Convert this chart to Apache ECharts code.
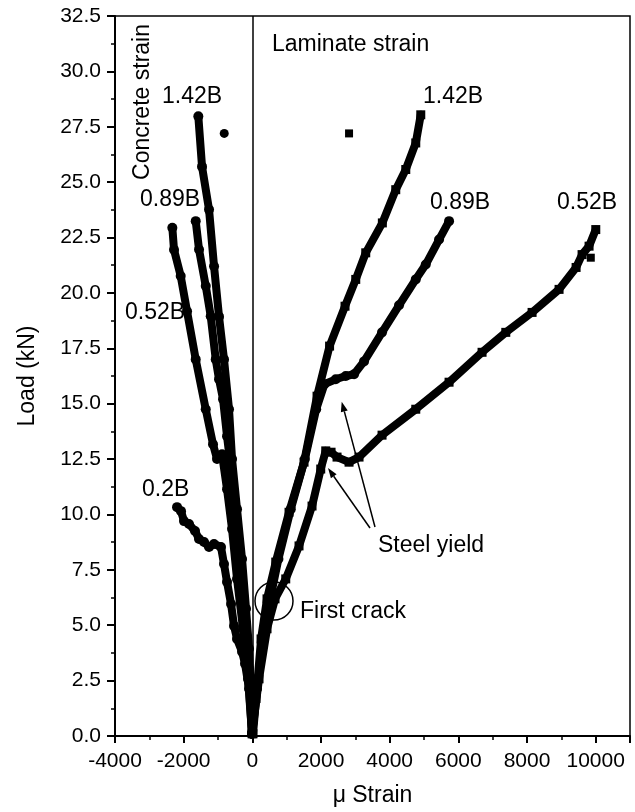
<!DOCTYPE html>
<html>
<head>
<meta charset="utf-8">
<script src="https://cdn.jsdelivr.net/npm/echarts@6/dist/echarts.min.js"></script>
<style>
  html, body { margin: 0; padding: 0; background: #fff; }
  #chart { width: 635px; height: 812px; }
</style>
</head>
<body>
<div id="chart"></div>
<script>
// [strain, load] pairs
var concrete142 = [[-1573,27.97],[-1465,25.7],[-1261,23.76],[-1115,21.2],[-970,18.93],[-825,17.0],[-679,14.75],[-591,12.5],[-446,10.24],[-300,7.99],[-184,5.74],[-96,3.94],[-38,1.69],[-9,0.1]];
var concrete089 = [[-1649,23.24],[-1553,21.96],[-1357,20.31],[-1212,18.95],[-1066,17.0],[-970,16.1],[-853,15.2],[-737,13.53],[-620,12.04],[-504,9.79],[-358,7.54],[-213,5.29],[-96,3.04],[-9,0.1]];
var concrete052 = [[-2330,22.94],[-2281,21.95],[-2086,20.76],[-1902,19.17],[-1649,17.0],[-1357,14.75],[-1145,13.17],[-1028,12.5],[-883,12.72],[-737,11.14],[-591,9.34],[-446,7.09],[-271,4.84],[-125,2.58],[-9,0.1]];
var concrete02 = [[-2193,10.33],[-2077,10.15],[-1990,9.7],[-1844,9.57],[-1669,9.25],[-1553,8.89],[-1407,8.76],[-1261,8.53],[-1116,8.67],[-912,8.53],[-825,7.76],[-737,6.95],[-620,5.96],[-533,4.97],[-446,4.38],[-300,3.8],[-213,3.26],[-96,2.13],[-9,0.1]];

var laminate142 = [[20,0.1],[108,1.69],[254,4.38],[428,6.19],[682,7.85],[1069,10.1],[1506,12.36],[1885,15.34],[2250,17.6],[2700,19.4],[3012,20.61],[3303,21.81],[3787,23.16],[4177,24.66],[4469,25.57],[4760,26.77],[4906,28.04]];
var laminate089 = [[-9,0.1],[137,2.13],[320,4.38],[520,6.19],[760,7.99],[1120,10.24],[1530,12.5],[1860,14.75],[2100,15.88],[2429,16.1],[2721,16.25],[2963,16.33],[3254,16.91],[3778,18.22],[4273,19.44],[4760,20.61],[5051,21.28],[5439,22.41],[5730,23.24]];
var laminate052 = [[-9,0.1],[195,2.58],[428,4.84],[661,6.19],[973,7.09],[1360,8.58],[1739,10.38],[1992,12.05],[2138,12.87],[2293,12.81],[2467,12.59],[2817,12.36],[3108,12.59],[3778,13.58],[4760,14.75],[5730,15.97],[6691,17.32],[7382,18.22],[8148,19.12],[8934,20.16],[9430,21.15],[9604,21.73],[9808,22.11],[10003,22.86]];

var strayCircles = [[-818,27.2]];
var straySquares = [[2817,27.2],[9858,21.59]];

var yTicks = ['0.0','2.5','5.0','7.5','10.0','12.5','15.0','17.5','20.0','22.5','25.0','27.5','30.0','32.5'];

var FONT = '"Liberation Sans", Arial, sans-serif';

function curve(data, symbol) {
    return {
        type: 'line',
        data: data,
        symbol: symbol,
        symbolSize: symbol == 'rect' ? 9 : 10,
        itemStyle: {color: '#000', opacity: 1},
        lineStyle: {color: '#000', width: 8, cap: 'round', join: 'round'},
        silent: true
    };
}

function txt(x, y, s, extra) {
    var o = {
        type: 'text', x: x, y: y,
        style: {text: s, font: '23px ' + FONT, fill: '#000', textAlign: 'left', textVerticalAlign: 'middle'}
    };
    if (extra) for (var k in extra) o[k] = extra[k];
    return o;
}

function arrow(x1, y1, bx, by, tip, p1, p2) {
    return [
        {type: 'line', shape: {x1: x1, y1: y1, x2: bx, y2: by}, style: {stroke: '#000', lineWidth: 1.5}},
        {type: 'polygon', shape: {points: [tip, p1, p2]}, style: {fill: '#000'}}
    ];
}

var chart = echarts.init(document.getElementById('chart'));

var series = [
    curve(concrete142, 'circle'),
    curve(concrete089, 'circle'),
    curve(concrete052, 'circle'),
    curve(concrete02, 'circle'),
    curve(laminate142, 'rect'),
    curve(laminate089, 'circle'),
    curve(laminate052, 'rect'),
    {type: 'scatter', data: strayCircles, symbol: 'circle', symbolSize: 9, itemStyle: {color: '#000', opacity: 1}},
    {type: 'scatter', data: straySquares, symbol: 'rect', symbolSize: 8, itemStyle: {color: '#000', opacity: 1}}
];
series[0].markLine = {
    silent: true, symbol: 'none', label: {show: false},
    lineStyle: {color: '#000', width: 1.5, type: 'solid'},
    data: [{xAxis: 0}]
};

var graphics = [
    txt(272, 45, 'Laminate strain'),
    txt(143, 102, 'Concrete strain', {rotation: Math.PI / 2, style: {text: 'Concrete strain', font: '23px ' + FONT, fill: '#000', textAlign: 'center', textVerticalAlign: 'middle'}}),
    txt(162, 97, '1.42B'),
    txt(140, 200, '0.89B'),
    txt(125, 313, '0.52B'),
    txt(142, 490, '0.2B'),
    txt(423, 97, '1.42B'),
    txt(430, 203, '0.89B'),
    txt(557, 203, '0.52B'),
    txt(378, 546, 'Steel yield'),
    txt(300, 612, 'First crack'),
    {type: 'circle', shape: {cx: 274, cy: 601, r: 19}, style: {fill: 'none', stroke: '#000', lineWidth: 1.5}}
];
graphics = graphics.concat(
    arrow(370, 528, 333.7, 476.2, [328, 468], [336.6, 474.2], [330.9, 478.2]),
    arrow(375, 527, 344.3, 411.4, [341.7, 401.7], [347.7, 410.5], [340.9, 412.3])
);

chart.setOption({
    animation: false,
    backgroundColor: '#fff',
    grid: {left: 115, right: 5, top: 16, bottom: 75, show: true, borderColor: '#000', borderWidth: 1.5, backgroundColor: 'transparent'},
    xAxis: {
        type: 'value', min: -4000, max: 11000, interval: 2000,
        name: 'μ Strain', nameLocation: 'middle', nameGap: 48,
        nameTextStyle: {color: '#000', fontSize: 23, fontFamily: FONT},
        axisLine: {show: true, onZero: false, lineStyle: {color: '#000', width: 2}},
        axisTick: {show: true, inside: false, length: 7, lineStyle: {color: '#000', width: 2}},
        minorTick: {show: true, splitNumber: 2, length: 4, lineStyle: {color: '#000', width: 1.5}},
        axisLabel: {color: '#000', fontSize: 21, fontFamily: FONT, margin: 15,
            formatter: function (v) { return v > 10000 ? '' : String(v); }},
        splitLine: {show: false}
    },
    yAxis: {
        type: 'value', min: 0, max: 32.5, interval: 2.5,
        name: 'Load (kN)', nameLocation: 'middle', nameGap: 76,
        nameTextStyle: {color: '#000', fontSize: 23, fontFamily: FONT},
        axisLine: {show: true, onZero: false, lineStyle: {color: '#000', width: 2}},
        axisTick: {show: true, inside: false, length: 8, lineStyle: {color: '#000', width: 2}},
        minorTick: {show: true, splitNumber: 2, length: 4, lineStyle: {color: '#000', width: 1.5}},
        axisLabel: {color: '#000', fontSize: 21, fontFamily: FONT, margin: 14,
            formatter: function (v) { return yTicks[Math.round(v / 2.5)]; }},
        splitLine: {show: false}
    },
    series: series,
    graphic: graphics
});
</script>
</body>
</html>
